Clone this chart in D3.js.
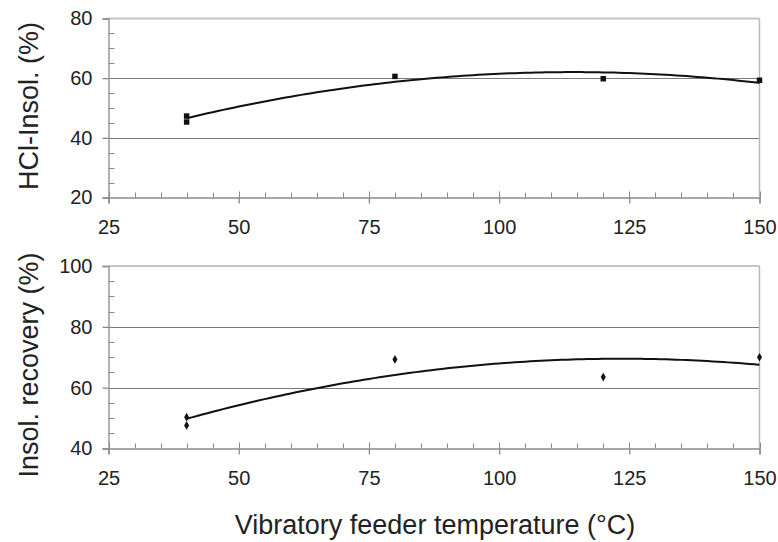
<!DOCTYPE html>
<html><head><meta charset="utf-8">
<script src="https://cdn.jsdelivr.net/npm/d3@7"></script>
<style>
body{margin:0;background:#fff;}
svg{display:block;font-family:"Liberation Sans",Arial,sans-serif;}
</style></head>
<body><svg id="c" width="778" height="542"></svg>
<script>
// ---- data ----
const temps = [40, 40, 80, 120, 150];
const hclInsol = [47.3, 45.3, 60.6, 59.8, 59.3];
const insolRecovery = [50.3, 47.6, 69.3, 63.5, 70.0];
const xTicks = [25, 50, 75, 100, 125, 150];
const topYTicks = [20, 40, 60, 80];
const bottomYTicks = [40, 60, 80, 100];
const xTitle = "Vibratory feeder temperature (°C)";
const topYTitle = "HCl-Insol. (%)";
const bottomYTitle = "Insol. recovery (%)";

// quadratic least-squares fit
function quadFit(xs, ys){
  let S=[0,0,0,0,0], T=[0,0,0];
  xs.forEach((x,i)=>{const y=ys[i];for(let k=0;k<5;k++)S[k]+=Math.pow(x,k);for(let k=0;k<3;k++)T[k]+=y*Math.pow(x,k);});
  const A=[[S[0],S[1],S[2],T[0]],[S[1],S[2],S[3],T[1]],[S[2],S[3],S[4],T[2]]];
  for(let i=0;i<3;i++){for(let j=i+1;j<3;j++){const f=A[j][i]/A[i][i];for(let k=i;k<4;k++)A[j][k]-=f*A[i][k];}}
  const c=[0,0,0];
  for(let i=2;i>=0;i--){let s=A[i][3];for(let k=i+1;k<3;k++)s-=A[i][k]*c[k];c[i]=s/A[i][i];}
  return x=>c[0]+c[1]*x+c[2]*x*x;
}

const svg = d3.select("#c");
const x = d3.scaleLinear().domain([25,150]).range([108.5,759.5]);
const axisCol = "#8a8a8a";

function panel(yDomain, yRange, yTicks, ys, title, titleCY, marker){
  const y = d3.scaleLinear().domain(yDomain).range(yRange);
  const g = svg.append("g");
  const [x0,x1] = x.range(), [yb,yt] = yRange;
  // grid lines (interior)
  g.selectAll(".grid").data(yTicks.filter(v=>v>yDomain[0]&&v<yDomain[1])).enter().append("line")
    .attr("x1",x0).attr("x2",x1).attr("y1",d=>Math.round(y(d))+0.5).attr("y2",d=>Math.round(y(d))+0.5)
    .attr("stroke","#7a7a7a").attr("stroke-width",1);
  // top border & right border
  g.append("line").attr("x1",x0).attr("x2",x1).attr("y1",yt).attr("y2",yt).attr("stroke","#c4c4c4").attr("stroke-width",2);
  g.append("line").attr("x1",x1).attr("x2",x1).attr("y1",yt).attr("y2",yb).attr("stroke","#b8b8b8").attr("stroke-width",1.5);
  // minor ticks y (inside)
  const yMinor = d3.range(yDomain[0], yDomain[1]+0.01, 5).filter(v=>!yTicks.includes(v));
  g.selectAll(".ym").data(yMinor).enter().append("line")
    .attr("x1",x0).attr("x2",x0+6).attr("y1",d=>Math.round(y(d))+0.5).attr("y2",d=>Math.round(y(d))+0.5)
    .attr("stroke",axisCol);
  // minor ticks x (inside)
  const xMinor = d3.range(25,150.01,5).filter(v=>!xTicks.includes(v));
  g.selectAll(".xm").data(xMinor).enter().append("line")
    .attr("x1",d=>Math.round(x(d))+0.5).attr("x2",d=>Math.round(x(d))+0.5).attr("y1",yb).attr("y2",yb-5)
    .attr("stroke",axisCol);
  // major x tick inner part
  g.selectAll(".xM").data(xTicks).enter().append("line")
    .attr("x1",d=>Math.round(x(d))+0.5).attr("x2",d=>Math.round(x(d))+0.5).attr("y1",yb).attr("y2",yb-6)
    .attr("stroke",axisCol);
  // axes
  const ax = g.append("g").attr("transform",`translate(0,${yb})`)
    .call(d3.axisBottom(x).tickValues(xTicks).tickSize(6).tickPadding(16).tickFormat(d3.format("d")));
  const ay = g.append("g").attr("transform",`translate(${x0},0)`)
    .call(d3.axisLeft(y).tickValues(yTicks).tickSize(6).tickPadding(10).tickFormat(d3.format("d")));
  [ax,ay].forEach(a=>{
    a.selectAll("path,line").attr("stroke",axisCol).attr("stroke-width",1.3);
    a.selectAll("text").attr("fill","#222").style("font-size","20px").style("font-family","'Liberation Sans',Arial,sans-serif");
  });
  // trend
  const f = quadFit(temps, ys);
  const pts = d3.range(40,150.01,1).map(t=>[t,f(t)]);
  g.append("path").attr("d", d3.line().x(d=>x(d[0])).y(d=>y(d[1])).curve(d3.curveBasis)(pts))
    .attr("fill","none").attr("stroke","#111").attr("stroke-width",2);
  // markers
  g.selectAll(".pt").data(temps.map((t,i)=>[t,ys[i]])).enter().append("path")
    .attr("transform",d=>`translate(${x(d[0])},${y(d[1])})`)
    .attr("d", d3.symbol().type(marker).size(marker===d3.symbolSquare?30:22))
    .attr("fill","#111");
  // title
  g.append("text").attr("transform",`translate(38,${titleCY}) rotate(-90)`)
    .attr("text-anchor","middle").attr("fill","#222").style("font-size","27px").text(title);
}

panel([20,80],[197.5,18.5],topYTicks,hclInsol,topYTitle,106,d3.symbolSquare);
panel([40,100],[448.5,266],bottomYTicks,insolRecovery,bottomYTitle,365,d3.symbolDiamond);

svg.append("text").attr("x",435).attr("y",534).attr("text-anchor","middle")
  .attr("fill","#222").style("font-size","27px").text(xTitle);
</script></body></html>
